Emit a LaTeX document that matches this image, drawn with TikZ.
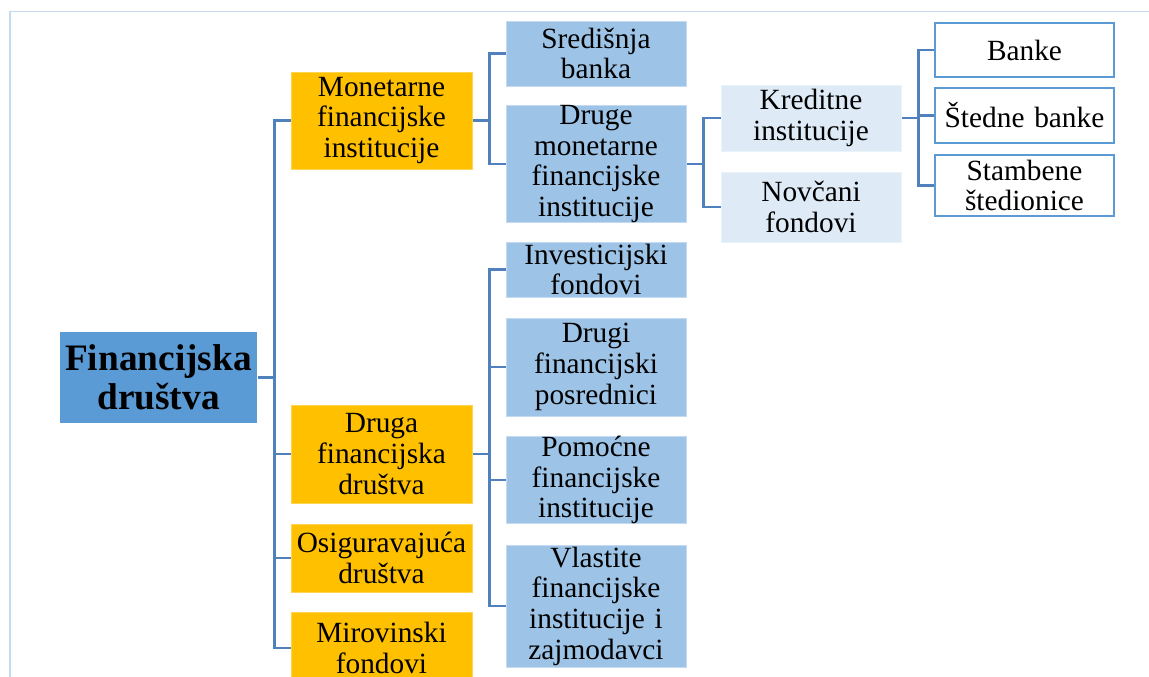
\documentclass[tikz,border=0pt]{standalone}
\usepackage{fontspec}
\setmainfont{Liberation Serif}
\newlength\pxu
\setlength\pxu{0.75pt}
\definecolor{rootfill}{HTML}{5B9BD5}
\definecolor{orangefill}{HTML}{FFC000}
\definecolor{orangeline}{HTML}{FFD54F}
\definecolor{midfill}{HTML}{9DC3E6}
\definecolor{midline}{HTML}{C3DAF0}
\definecolor{lightfill}{HTML}{DEEBF7}
\definecolor{lightline}{HTML}{EAF2FA}
\definecolor{whiteline}{HTML}{5B9BD5}
\definecolor{linkcol}{HTML}{5081BD}
\definecolor{framecol}{HTML}{C5D9F1}

\begin{document}
\begin{tikzpicture}[x=\pxu, y=-\pxu,
  box/.style={rectangle, inner sep=0pt, align=center, line width=1\pxu,
    font=\fontsize{22}{23}\selectfont},
  rootbox/.style={box, fill=rootfill, minimum width=197\pxu, text width=197\pxu,
    minimum height=91\pxu, font=\bfseries\fontsize{28}{29}\selectfont},
  orangebox/.style={box, fill=orangefill, draw=orangeline, minimum width=181\pxu, text width=181\pxu},
  midbox/.style={box, fill=midfill, draw=midline, minimum width=180\pxu, text width=180\pxu},
  lightbox/.style={box, fill=lightfill, draw=lightline, minimum width=180\pxu, text width=180\pxu},
  whitebox/.style={box, fill=white, draw=whiteline, line width=2.5\pxu, minimum width=179\pxu, text width=177\pxu},
  link/.style={draw=linkcol, line width=2.5\pxu}]

 \useasboundingbox (0,0) rectangle (1149,676);
 \clip (0,0) rectangle (1149,676);
 \fill[white] (0,0) rectangle (1149,676);
 \draw[framecol, line width=1.5\pxu] (10,680) |- (1152,11.5);

 % root and first level
 \node[rootbox] (root) at (158.5,377.5) {Financijska\\društva};
 \node[orangebox, minimum height=97\pxu] (mon) at (381.5,120.5) {Monetarne\\financijske\\institucije};
 \node[orangebox, minimum height=98\pxu] (druga) at (381.5,454) {Druga\\financijska\\društva};
 \node[orangebox, minimum height=68\pxu] (osig) at (381.5,558) {Osiguravajuća\\društva};
 \node[orangebox, minimum height=72\pxu] (mir) at (381.5,648) {Mirovinski\\fondovi};

 % second level
 \node[midbox, minimum height=65\pxu] (sred) at (596,53.5) {Središnja\\banka};
 \node[midbox, minimum height=114\pxu] (druge) at (596,164) {Druge\\monetarne\\financijske\\institucije};
 \node[midbox, minimum height=55\pxu] (inv) at (596,269.5) {Investicijski\\fondovi};
 \node[midbox, minimum height=98\pxu] (drugi) at (596,367) {Drugi\\financijski\\posrednici};
 \node[midbox, minimum height=86\pxu] (pom) at (596,480) {Pomoćne\\financijske\\institucije};
 \node[midbox, minimum height=122\pxu] (vlast) at (596,606) {Vlastite\\financijske\\institucije i\\zajmodavci};

 % third and fourth level
 \node[lightbox, minimum height=66\pxu] (kred) at (811,118) {Kreditne\\institucije};
 \node[lightbox, minimum height=70\pxu] (novc) at (811,207) {Novčani\\fondovi};
 \node[whitebox, minimum height=54\pxu] (banke) at (1024.5,50) {Banke};
 \node[whitebox, minimum height=55\pxu] (sted) at (1024.5,115.5) {Štedne banke};
 \node[whitebox, minimum height=61\pxu] (stamb) at (1024.5,185.5) {Stambene\\štedionice};

 % connectors
 \draw[link] (root.east) -- ++(17,0) coordinate (j0);
 \foreach \n in {mon,druga,osig,mir} \draw[link] (j0) |- (\n.west);
 \draw[link] (mon.east) -- ++(17,0) coordinate (j1);
 \foreach \n in {sred,druge} \draw[link] (j1) |- (\n.west);
 \draw[link] (druga.east) -- ++(17,0) coordinate (j2);
 \foreach \n in {inv,drugi,pom,vlast} \draw[link] (j2) |- (\n.west);
 \draw[link] (druge.east) -- ++(17,0) coordinate (j3);
 \foreach \n in {kred,novc} \draw[link] (j3) |- (\n.west);
 \draw[link] (kred.east) -- ++(17,0) coordinate (j4);
 \foreach \n in {banke,sted,stamb} \draw[link] (j4) |- (\n.west);

\end{tikzpicture}
\end{document}
